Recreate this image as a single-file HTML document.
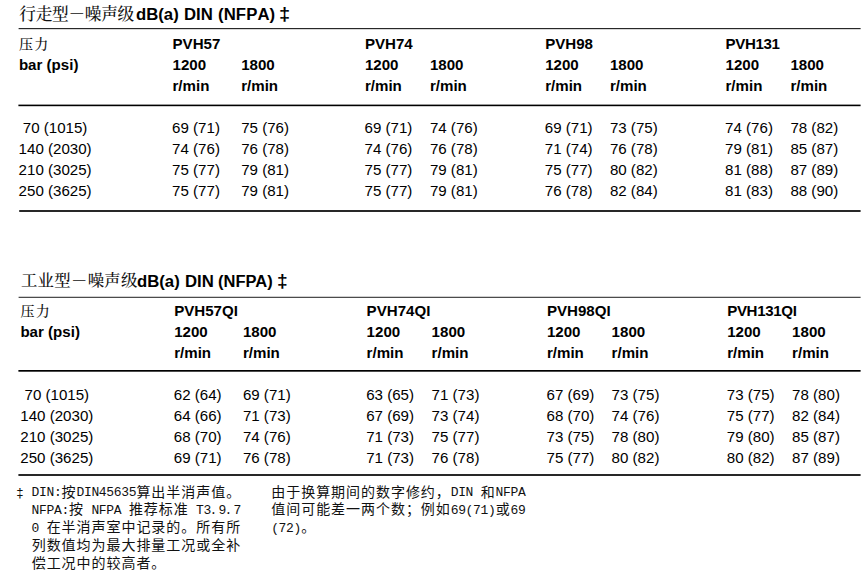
<!DOCTYPE html>
<html><head><meta charset="utf-8"><title>Noise levels</title>
<style>
html,body{margin:0;padding:0;background:#fff;}
body{width:868px;height:577px;position:relative;overflow:hidden;font-family:"Liberation Sans",sans-serif;color:#000;}
.t{position:absolute;line-height:20px;white-space:nowrap;}
svg text{fill:#111;white-space:pre;}
.s{font-family:"Liberation Serif","Noto Serif CJK SC",serif;font-weight:500;}
.m{font-family:"Liberation Mono",monospace;font-size:13px;letter-spacing:-0.32px;}
.h{font-family:"Liberation Sans","Noto Sans CJK SC",sans-serif;font-size:14px;letter-spacing:0.96px;}
</style></head><body>
<div class="t" style="left:136.30px;top:5.00px;font-size:16px;font-weight:bold;transform:scaleX(1.045);transform-origin:0 0;">dB(a)</div>
<div class="t" style="left:184.10px;top:5.00px;font-size:16px;font-weight:bold;transform:scaleX(1.045);transform-origin:0 0;">DIN</div>
<div class="t" style="left:217.60px;top:5.00px;font-size:16px;font-weight:bold;letter-spacing:0.1px;font-kerning:none;transform:scaleX(1.045);transform-origin:0 0;">(NFPA)</div>
<div class="t" style="left:278.60px;top:5.00px;font-size:16px;font-weight:bold;transform:scale(1.25,1.1);transform-origin:0 15px;">‡</div>
<div class="t" style="left:18.90px;top:55.00px;font-size:15.1px;font-weight:bold;">bar (psi)</div>
<div class="t" style="left:172.50px;top:34.00px;font-size:15.1px;font-weight:bold;">PVH57</div>
<div class="t" style="left:172.50px;top:55.00px;font-size:15.1px;font-weight:bold;">1200</div>
<div class="t" style="left:241.20px;top:55.00px;font-size:15.1px;font-weight:bold;">1800</div>
<div class="t" style="left:172.50px;top:76.00px;font-size:15.1px;font-weight:bold;">r/min</div>
<div class="t" style="left:241.20px;top:76.00px;font-size:15.1px;font-weight:bold;">r/min</div>
<div class="t" style="left:364.90px;top:34.00px;font-size:15.1px;font-weight:bold;">PVH74</div>
<div class="t" style="left:364.90px;top:55.00px;font-size:15.1px;font-weight:bold;">1200</div>
<div class="t" style="left:429.90px;top:55.00px;font-size:15.1px;font-weight:bold;">1800</div>
<div class="t" style="left:364.90px;top:76.00px;font-size:15.1px;font-weight:bold;">r/min</div>
<div class="t" style="left:429.90px;top:76.00px;font-size:15.1px;font-weight:bold;">r/min</div>
<div class="t" style="left:545.20px;top:34.00px;font-size:15.1px;font-weight:bold;">PVH98</div>
<div class="t" style="left:545.20px;top:55.00px;font-size:15.1px;font-weight:bold;">1200</div>
<div class="t" style="left:609.90px;top:55.00px;font-size:15.1px;font-weight:bold;">1800</div>
<div class="t" style="left:545.20px;top:76.00px;font-size:15.1px;font-weight:bold;">r/min</div>
<div class="t" style="left:609.90px;top:76.00px;font-size:15.1px;font-weight:bold;">r/min</div>
<div class="t" style="left:725.50px;top:34.00px;font-size:15.1px;font-weight:bold;letter-spacing:-0.35px;">PVH131</div>
<div class="t" style="left:725.50px;top:55.00px;font-size:15.1px;font-weight:bold;">1200</div>
<div class="t" style="left:790.40px;top:55.00px;font-size:15.1px;font-weight:bold;">1800</div>
<div class="t" style="left:725.50px;top:76.00px;font-size:15.1px;font-weight:bold;">r/min</div>
<div class="t" style="left:790.40px;top:76.00px;font-size:15.1px;font-weight:bold;">r/min</div>
<div class="t" style="left:18.60px;top:118.00px;font-size:15.1px;white-space:pre;">&nbsp;70 (1015)</div>
<div class="t" style="left:172.10px;top:118.00px;font-size:15.1px;">69 (71)</div>
<div class="t" style="left:241.20px;top:118.00px;font-size:15.1px;">75 (76)</div>
<div class="t" style="left:364.50px;top:118.00px;font-size:15.1px;">69 (71)</div>
<div class="t" style="left:429.90px;top:118.00px;font-size:15.1px;">74 (76)</div>
<div class="t" style="left:544.80px;top:118.00px;font-size:15.1px;">69 (71)</div>
<div class="t" style="left:609.90px;top:118.00px;font-size:15.1px;">73 (75)</div>
<div class="t" style="left:725.10px;top:118.00px;font-size:15.1px;">74 (76)</div>
<div class="t" style="left:790.40px;top:118.00px;font-size:15.1px;">78 (82)</div>
<div class="t" style="left:18.60px;top:139.00px;font-size:15.1px;white-space:pre;">140 (2030)</div>
<div class="t" style="left:172.10px;top:139.00px;font-size:15.1px;">74 (76)</div>
<div class="t" style="left:241.20px;top:139.00px;font-size:15.1px;">76 (78)</div>
<div class="t" style="left:364.50px;top:139.00px;font-size:15.1px;">74 (76)</div>
<div class="t" style="left:429.90px;top:139.00px;font-size:15.1px;">76 (78)</div>
<div class="t" style="left:544.80px;top:139.00px;font-size:15.1px;">71 (74)</div>
<div class="t" style="left:609.90px;top:139.00px;font-size:15.1px;">76 (78)</div>
<div class="t" style="left:725.10px;top:139.00px;font-size:15.1px;">79 (81)</div>
<div class="t" style="left:790.40px;top:139.00px;font-size:15.1px;">85 (87)</div>
<div class="t" style="left:18.60px;top:160.00px;font-size:15.1px;white-space:pre;">210 (3025)</div>
<div class="t" style="left:172.10px;top:160.00px;font-size:15.1px;">75 (77)</div>
<div class="t" style="left:241.20px;top:160.00px;font-size:15.1px;">79 (81)</div>
<div class="t" style="left:364.50px;top:160.00px;font-size:15.1px;">75 (77)</div>
<div class="t" style="left:429.90px;top:160.00px;font-size:15.1px;">79 (81)</div>
<div class="t" style="left:544.80px;top:160.00px;font-size:15.1px;">75 (77)</div>
<div class="t" style="left:609.90px;top:160.00px;font-size:15.1px;">80 (82)</div>
<div class="t" style="left:725.10px;top:160.00px;font-size:15.1px;">81 (88)</div>
<div class="t" style="left:790.40px;top:160.00px;font-size:15.1px;">87 (89)</div>
<div class="t" style="left:18.60px;top:181.00px;font-size:15.1px;white-space:pre;">250 (3625)</div>
<div class="t" style="left:172.10px;top:181.00px;font-size:15.1px;">75 (77)</div>
<div class="t" style="left:241.20px;top:181.00px;font-size:15.1px;">79 (81)</div>
<div class="t" style="left:364.50px;top:181.00px;font-size:15.1px;">75 (77)</div>
<div class="t" style="left:429.90px;top:181.00px;font-size:15.1px;">79 (81)</div>
<div class="t" style="left:544.80px;top:181.00px;font-size:15.1px;">76 (78)</div>
<div class="t" style="left:609.90px;top:181.00px;font-size:15.1px;">82 (84)</div>
<div class="t" style="left:725.10px;top:181.00px;font-size:15.1px;">81 (83)</div>
<div class="t" style="left:790.40px;top:181.00px;font-size:15.1px;">88 (90)</div>
<div class="t" style="left:137.30px;top:272.00px;font-size:16px;font-weight:bold;transform:scaleX(1.045);transform-origin:0 0;">dB(a)</div>
<div class="t" style="left:184.60px;top:272.00px;font-size:16px;font-weight:bold;transform:scaleX(1.045);transform-origin:0 0;">DIN</div>
<div class="t" style="left:218.10px;top:272.00px;font-size:16px;font-weight:bold;transform:scaleX(1.03);transform-origin:0 0;">(NFPA)</div>
<div class="t" style="left:277.20px;top:272.00px;font-size:16px;font-weight:bold;transform:scale(1.2,1.1);transform-origin:0 15px;">‡</div>
<div class="t" style="left:20.40px;top:322.00px;font-size:15.1px;font-weight:bold;">bar (psi)</div>
<div class="t" style="left:174.20px;top:301.00px;font-size:15.1px;font-weight:bold;">PVH57QI</div>
<div class="t" style="left:174.20px;top:322.00px;font-size:15.1px;font-weight:bold;">1200</div>
<div class="t" style="left:242.90px;top:322.00px;font-size:15.1px;font-weight:bold;">1800</div>
<div class="t" style="left:174.20px;top:343.00px;font-size:15.1px;font-weight:bold;">r/min</div>
<div class="t" style="left:242.90px;top:343.00px;font-size:15.1px;font-weight:bold;">r/min</div>
<div class="t" style="left:366.60px;top:301.00px;font-size:15.1px;font-weight:bold;">PVH74QI</div>
<div class="t" style="left:366.60px;top:322.00px;font-size:15.1px;font-weight:bold;">1200</div>
<div class="t" style="left:431.60px;top:322.00px;font-size:15.1px;font-weight:bold;">1800</div>
<div class="t" style="left:366.60px;top:343.00px;font-size:15.1px;font-weight:bold;">r/min</div>
<div class="t" style="left:431.60px;top:343.00px;font-size:15.1px;font-weight:bold;">r/min</div>
<div class="t" style="left:546.90px;top:301.00px;font-size:15.1px;font-weight:bold;">PVH98QI</div>
<div class="t" style="left:546.90px;top:322.00px;font-size:15.1px;font-weight:bold;">1200</div>
<div class="t" style="left:611.60px;top:322.00px;font-size:15.1px;font-weight:bold;">1800</div>
<div class="t" style="left:546.90px;top:343.00px;font-size:15.1px;font-weight:bold;">r/min</div>
<div class="t" style="left:611.60px;top:343.00px;font-size:15.1px;font-weight:bold;">r/min</div>
<div class="t" style="left:727.20px;top:301.00px;font-size:15.1px;font-weight:bold;letter-spacing:-0.35px;">PVH131QI</div>
<div class="t" style="left:727.20px;top:322.00px;font-size:15.1px;font-weight:bold;">1200</div>
<div class="t" style="left:792.10px;top:322.00px;font-size:15.1px;font-weight:bold;">1800</div>
<div class="t" style="left:727.20px;top:343.00px;font-size:15.1px;font-weight:bold;">r/min</div>
<div class="t" style="left:792.10px;top:343.00px;font-size:15.1px;font-weight:bold;">r/min</div>
<div class="t" style="left:20.30px;top:385.00px;font-size:15.1px;white-space:pre;">&nbsp;70 (1015)</div>
<div class="t" style="left:173.80px;top:385.00px;font-size:15.1px;">62 (64)</div>
<div class="t" style="left:242.90px;top:385.00px;font-size:15.1px;">69 (71)</div>
<div class="t" style="left:366.20px;top:385.00px;font-size:15.1px;">63 (65)</div>
<div class="t" style="left:431.60px;top:385.00px;font-size:15.1px;">71 (73)</div>
<div class="t" style="left:546.50px;top:385.00px;font-size:15.1px;">67 (69)</div>
<div class="t" style="left:611.60px;top:385.00px;font-size:15.1px;">73 (75)</div>
<div class="t" style="left:726.80px;top:385.00px;font-size:15.1px;">73 (75)</div>
<div class="t" style="left:792.10px;top:385.00px;font-size:15.1px;">78 (80)</div>
<div class="t" style="left:20.30px;top:406.00px;font-size:15.1px;white-space:pre;">140 (2030)</div>
<div class="t" style="left:173.80px;top:406.00px;font-size:15.1px;">64 (66)</div>
<div class="t" style="left:242.90px;top:406.00px;font-size:15.1px;">71 (73)</div>
<div class="t" style="left:366.20px;top:406.00px;font-size:15.1px;">67 (69)</div>
<div class="t" style="left:431.60px;top:406.00px;font-size:15.1px;">73 (74)</div>
<div class="t" style="left:546.50px;top:406.00px;font-size:15.1px;">68 (70)</div>
<div class="t" style="left:611.60px;top:406.00px;font-size:15.1px;">74 (76)</div>
<div class="t" style="left:726.80px;top:406.00px;font-size:15.1px;">75 (77)</div>
<div class="t" style="left:792.10px;top:406.00px;font-size:15.1px;">82 (84)</div>
<div class="t" style="left:20.30px;top:427.00px;font-size:15.1px;white-space:pre;">210 (3025)</div>
<div class="t" style="left:173.80px;top:427.00px;font-size:15.1px;">68 (70)</div>
<div class="t" style="left:242.90px;top:427.00px;font-size:15.1px;">74 (76)</div>
<div class="t" style="left:366.20px;top:427.00px;font-size:15.1px;">71 (73)</div>
<div class="t" style="left:431.60px;top:427.00px;font-size:15.1px;">75 (77)</div>
<div class="t" style="left:546.50px;top:427.00px;font-size:15.1px;">73 (75)</div>
<div class="t" style="left:611.60px;top:427.00px;font-size:15.1px;">78 (80)</div>
<div class="t" style="left:726.80px;top:427.00px;font-size:15.1px;">79 (80)</div>
<div class="t" style="left:792.10px;top:427.00px;font-size:15.1px;">85 (87)</div>
<div class="t" style="left:20.30px;top:448.00px;font-size:15.1px;white-space:pre;">250 (3625)</div>
<div class="t" style="left:173.80px;top:448.00px;font-size:15.1px;">69 (71)</div>
<div class="t" style="left:242.90px;top:448.00px;font-size:15.1px;">76 (78)</div>
<div class="t" style="left:366.20px;top:448.00px;font-size:15.1px;">71 (73)</div>
<div class="t" style="left:431.60px;top:448.00px;font-size:15.1px;">76 (78)</div>
<div class="t" style="left:546.50px;top:448.00px;font-size:15.1px;">75 (77)</div>
<div class="t" style="left:611.60px;top:448.00px;font-size:15.1px;">80 (82)</div>
<div class="t" style="left:726.80px;top:448.00px;font-size:15.1px;">80 (82)</div>
<div class="t" style="left:792.10px;top:448.00px;font-size:15.1px;">87 (89)</div>
<svg width="868" height="577" viewBox="0 0 868 577" style="position:absolute;left:0;top:0" fill="#111">
<text class="s" x="19.30" y="20.30" style="font-size:16.7px;letter-spacing:-0.3px;">行走型－噪声级</text>
<rect x="18.60" y="28.03" width="842.00" height="1.15" fill="#222"/>
<text class="s" x="19.00" y="49.30" style="font-size:14px;letter-spacing:1.2px;">压力</text>
<rect x="18.40" y="104.60" width="842.20" height="1.6" fill="#000"/>
<rect x="19.20" y="210.10" width="841.40" height="1.8" fill="#111"/>
<text class="s" x="20.90" y="286.40" style="font-size:16.4px;letter-spacing:0.3px;">工业型－噪声级</text>
<rect x="18.60" y="296.80" width="842.00" height="0.95" fill="#111"/>
<text class="s" x="20.60" y="315.70" style="font-size:14px;letter-spacing:1.2px;">压力</text>
<rect x="18.40" y="370.00" width="842.20" height="1.7" fill="#000"/>
<rect x="18.40" y="474.10" width="842.20" height="1.8" fill="#111"/>
<text class="m" x="16.00" y="497.30">‡</text>
<text class="m" x="31.55" y="496.10">DIN:</text>
<text class="h" x="61.60" y="496.60">按</text>
<text class="m" x="76.43" y="496.10">DIN45635</text>
<text class="h" x="136.40" y="496.60">算出半消声值。</text>
<text class="m" x="31.55" y="513.95">NFPA:</text>
<text class="h" x="69.08" y="514.45">按</text>
<text class="m" x="91.39" y="513.95">NFPA</text>
<text class="h" x="128.92" y="514.45">推荐标准</text>
<text class="m" x="196.11 203.59 209.47 218.55 224.43 233.51" y="513.95">T3.9.7</text>
<text class="m" x="31.55" y="531.80">0</text>
<text class="h" x="46.64" y="532.30">在半消声室中记录的。所有所</text>
<text class="h" x="31.68" y="550.15">列数值均为最大排量工况或全补</text>
<text class="h" x="31.68" y="568.00">偿工况中的较高者。</text>
<text class="h" x="271.28" y="496.60">由于换算期间的数字修约，</text>
<text class="m" x="450.67" y="496.10">DIN</text>
<text class="h" x="480.72" y="496.60">和</text>
<text class="m" x="495.55" y="496.10">NFPA</text>
<text class="h" x="271.28" y="514.45">值间可能差一两个数；例如</text>
<text class="m" x="450.67" y="513.95">69(71)</text>
<text class="h" x="495.68" y="514.45">或</text>
<text class="m" x="510.51" y="513.95">69</text>
<text class="m" x="271.15" y="531.80">(72)</text>
<text class="h" x="301.20" y="532.30">。</text>
</svg>
</body></html>
